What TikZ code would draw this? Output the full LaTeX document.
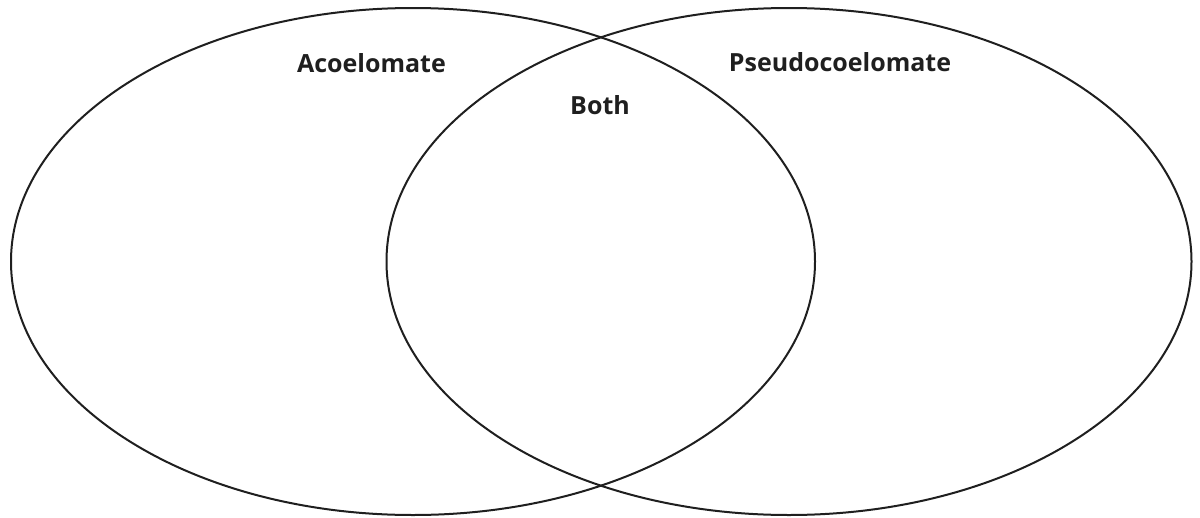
\documentclass[tikz,border=0pt]{standalone}
\usepackage{fontspec}
\setmainfont{Open Sans}
\begin{document}
\begin{tikzpicture}[x=1pt,y=-1pt,
  setring/.style={draw=black!88,line width=2pt},
  setlabel/.style={font=\fontsize{25}{30}\selectfont\bfseries,text=black!88,inner sep=0pt,anchor=base}]
\useasboundingbox (0,0) rectangle (1200,517);
\draw[setring] (413,261.5) ellipse [x radius=402, y radius=253.5];
\draw[setring] (789,261.5) ellipse [x radius=402.5, y radius=253.5];
\node[setlabel] (acoel) at (371.5,72) {Acoelomate};
\node[setlabel] (pseudo) at (840,71) {Pseudocoelomate};
\node[setlabel] (both) at (600,114) {Both};
\end{tikzpicture}
\end{document}
